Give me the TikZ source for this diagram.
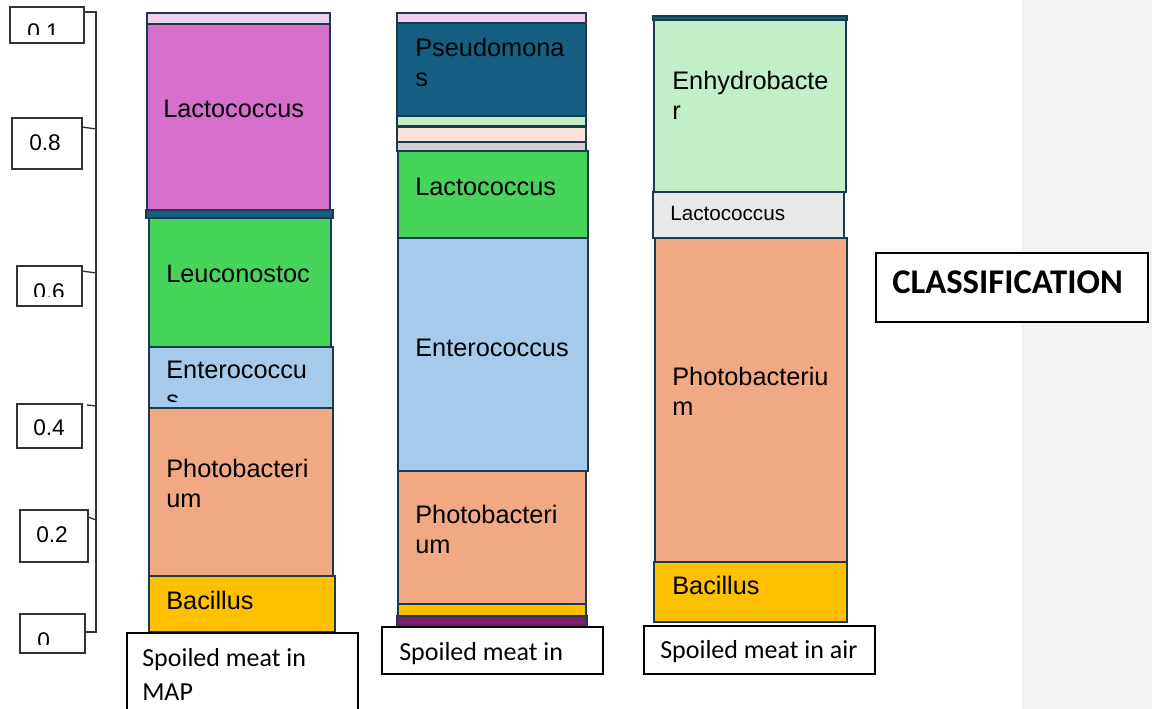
\documentclass[tikz,border=0pt]{standalone}
\usepackage{fontspec}
\setmainfont{Liberation Sans}
\newfontfamily\calib{Carlito}
\definecolor{pinkl}{HTML}{F2CEEF}
\definecolor{magen}{HTML}{D86ECC}
\definecolor{dblue}{HTML}{156082}
\definecolor{leaf}{HTML}{47D45A}
\definecolor{lblue}{HTML}{A6CAEC}
\definecolor{salmon}{HTML}{F1A983}
\definecolor{amber}{HTML}{FFC000}
\definecolor{lgreen}{HTML}{C1F0C8}
\definecolor{peach}{HTML}{FBE2D5}
\definecolor{grayst}{HTML}{D0D0D0}
\definecolor{lgray}{HTML}{E8E8E8}
\definecolor{plum}{HTML}{78206E}
\definecolor{barline}{HTML}{1B3A4D}
\definecolor{panel}{HTML}{F2F2F2}
\begin{document}
\begin{tikzpicture}[x=0.75pt,y=-0.75pt,
 bar/.style={draw=barline,line width=1.3pt},
 txt/.style={anchor=base west,inner sep=0pt,align=left,font=\fontsize{19}{22.5}\selectfont},
 num/.style={anchor=base west,inner sep=0pt,font=\fontsize{17}{20}\selectfont},
 axbox/.style={draw=black!80,line width=1pt},
 capbox/.style={draw=black,line width=0.9pt,fill=white},
 captxt/.style={anchor=base west,inner sep=0pt,align=left,font=\calib\fontsize{19.5}{25.5}\selectfont}]
\useasboundingbox (0,0) rectangle (1152,709);
\fill[panel] (1022,0) rectangle (1152,709);
% scale on the left
\draw[axbox] (84,12) -- (96,12) -- (96,632) -- (86,632);
\foreach\xa/\ya/\yb in {82/127/129,82/271/273,87/405/406,88/517/520}{
 \draw[axbox] (\xa,\ya) -- (96,\yb);
}
\foreach\xa/\ya/\xb/\yb/\yc/\xt/\yt/\v [count=\i] in {10/7/84/43/35/27/40/0.1,12/118/82/169/169/29/151/0.8,17/266/82/306/296/33/299/0.6,17/404/82/448/448/33/435/0.4,20/510/88/562/562/36/542/0.2,20/614/85/653/644/37/648/0.}{
 \draw[axbox] (\xa,\ya) rectangle (\xb,\yb);
 \begin{scope}
 \clip (\xa,\ya) rectangle (\xb,\yc);
 \node[num] (num\i) at (\xt,\yt) {\v};
 \end{scope}
}
% spoiled meat in MAP
\foreach\xa/\ya/\xb/\yb/\c in {147/13/330/24/pinkl,147/24/330/210/magen,146/210/333/218/dblue,149/218/331/347/leaf,149/347/333/408/lblue,149/408/333/576/salmon,149/576/335/632/amber}{
 \draw[bar,fill=\c] (\xa,\ya) rectangle (\xb,\yb);
}
\node[txt] (lactoA) at (163,118) {Lactococcus};
\node[txt] (leuco) at (166,282) {Leuconostoc};
\begin{scope}
\clip (149,347) rectangle (333,401);
\node[txt] (enteroA) at (166,408) {Enterococcu\\s};
\end{scope}
\node[txt] (photoA) at (166,507) {Photobacteri\\um};
\node[txt] (bacA) at (166,609) {Bacillus};
% spoiled meat in ...
\foreach\xa/\ya/\xb/\yb/\c in {397/13/586/23/pinkl,397/23/586/116/dblue,397/116/586/126/lgreen,397/127/586/142/peach,397/142/586/151/grayst,398/151/588/238/leaf,398/238/588/471/lblue,398/471/586/604/salmon,398/604/586/616/amber,397/616/587/626/plum}{
 \draw[bar,fill=\c] (\xa,\ya) rectangle (\xb,\yb);
}
\node[txt] (pseudo) at (415,87) {Pseudomona\\s};
\node[txt] (lactoB) at (415,196) {Lactococcus};
\node[txt] (enteroB) at (415,356) {Enterococcus};
\node[txt] (photoB) at (415,553) {Photobacteri\\um};
% spoiled meat in air
\foreach\xa/\ya/\xb/\yb/\c in {653/16/847/20/dblue,654/20/846/192/lgreen,653/192/844/238/lgray,655/238/847/562/salmon,654/562/847/622/amber}{
 \draw[bar,fill=\c] (\xa,\ya) rectangle (\xb,\yb);
}
\node[txt] (enhydro) at (672,120) {Enhydrobacte\\r};
\node[txt,font=\fontsize{15.5}{18}\selectfont] (lactoC) at (670,221) {Lactococcus};
\node[txt] (photoC) at (672,415) {Photobacteriu\\m};
\node[txt] (bacC) at (672,594) {Bacillus};
% captions
\draw[capbox] (127,633) rectangle (358,720);
\node[captxt] (mapA) at (142,700) {Spoiled meat in\\MAP};
\draw[capbox] (382,627) rectangle (603,674);
\node[captxt] (mapB) at (399,660) {Spoiled meat in};
\draw[capbox] (644,626) rectangle (875,674);
\node[captxt] (airC) at (660,658) {Spoiled meat in air};
\draw[capbox] (876,253) rectangle (1148,322);
\node[captxt,font=\calib\bfseries\fontsize{26}{30}\selectfont] (classif) at (892,293) {CLASSIFICATION};
\end{tikzpicture}
\end{document}
